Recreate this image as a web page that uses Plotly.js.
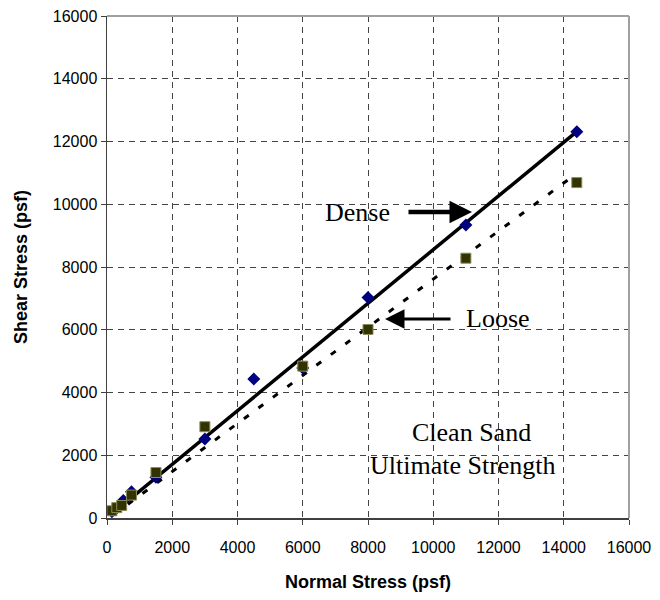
<!DOCTYPE html>
<html>
<head>
<meta charset="utf-8">
<script src="https://cdn.plot.ly/plotly-3.0.1.min.js"></script>
<style>
  html, body { margin: 0; padding: 0; background: #ffffff; }
  #chart { width: 660px; height: 600px; }
</style>
</head>
<body>
<div id="chart"></div>
<script>
// Direct shear results on clean sand, ultimate strength
const denseNormal = [150, 500, 750, 1500, 3000, 4500, 6000, 8000, 11000, 14400];
const denseShear  = [200, 560, 840, 1300, 2520, 4430, 4780, 7030, 9340, 12310];

const looseNormal = [150, 300, 450, 750, 1500, 3000, 6000, 8000, 11000, 14400];
const looseShear  = [230, 330, 400, 730, 1450, 2910, 4840, 6010, 8280, 10690];

// Strength envelopes (end points of each fitted line)
const denseFitNormal = [150, 14500];
const denseFitShear  = [130, 12400];
const looseFitNormal = [200, 14250];
const looseFitShear  = [100, 10870];

const axisTicks = [0, 2000, 4000, 6000, 8000, 10000, 12000, 14000, 16000];

const traces = [
  {
    x: denseFitNormal, y: denseFitShear, mode: 'lines', type: 'scatter',
    line: { color: '#000000', width: 3.5 }, hoverinfo: 'skip'
  },
  {
    x: looseFitNormal, y: looseFitShear, mode: 'lines', type: 'scatter',
    line: { color: '#000000', width: 3, dash: '6px,12px' }, hoverinfo: 'skip'
  },
  {
    x: denseNormal, y: denseShear, mode: 'markers', type: 'scatter', name: 'Dense',
    marker: { symbol: 'diamond', size: 10, color: '#000080', line: { width: 0 } }
  },
  {
    x: looseNormal, y: looseShear, mode: 'markers', type: 'scatter', name: 'Loose',
    marker: { symbol: 'square', size: 10, color: '#333300', line: { color: '#8c8c5a', width: 1 } }
  }
];

const axisCommon = {
  range: [0, 16000],
  tickvals: axisTicks,
  ticktext: axisTicks.map(String),
  showgrid: true,
  gridcolor: '#444444',
  gridwidth: 1,
  griddash: '6px,5px',
  zeroline: false,
  showline: true,
  linecolor: '#404040',
  linewidth: 1.5,
  ticks: 'outside',
  ticklen: 5,
  tickwidth: 1,
  tickcolor: '#404040',
  tickfont: { family: 'Liberation Sans, Arial, sans-serif', size: 16, color: '#000000' },
  fixedrange: true
};

const titleFont = { family: 'Liberation Sans, Arial, sans-serif', size: 18, color: '#000000', weight: 'bold' };
const serif = { family: 'Liberation Serif, Times New Roman, serif', size: 26, color: '#000000' };

const layout = {
  width: 660,
  height: 600,
  margin: { l: 107, r: 31, t: 16, b: 82 },
  paper_bgcolor: '#ffffff',
  plot_bgcolor: '#ffffff',
  showlegend: false,
  xaxis: Object.assign({}, axisCommon, {
    ticklabelstandoff: 9,
    title: { text: '<b>Normal Stress (psf)</b>', font: titleFont, standoff: 20 }
  }),
  yaxis: Object.assign({}, axisCommon, {
    title: { text: '<b>Shear Stress (psf)</b>', font: titleFont, standoff: 20 }
  }),
  shapes: [
    // light frame along the top and right edges of the plot area
    { type: 'line', xref: 'paper', yref: 'paper', x0: 0, x1: 1, y0: 1, y1: 1, line: { color: '#a0a0a0', width: 2 } },
    { type: 'line', xref: 'paper', yref: 'paper', x0: 1, x1: 1, y0: 0, y1: 1, line: { color: '#a0a0a0', width: 2 } }
  ],
  annotations: [
    { x: 7693, y: 9753, xref: 'x', yref: 'y', text: 'Dense', showarrow: false, font: serif },
    {
      x: 11188, y: 9753, ax: 9195, ay: 9753, xref: 'x', yref: 'y', axref: 'x', ayref: 'y',
      text: '', showarrow: true, arrowhead: 2, arrowsize: 1, arrowwidth: 4.5, arrowcolor: '#000000'
    },
    { x: 11985, y: 6343, xref: 'x', yref: 'y', text: 'Loose', showarrow: false, font: serif },
    {
      x: 8521, y: 6343, ax: 10575, ay: 6343, xref: 'x', yref: 'y', axref: 'x', ayref: 'y',
      text: '', showarrow: true, arrowhead: 2, arrowsize: 1.3, arrowwidth: 3, arrowcolor: '#000000'
    },
    { x: 11157, y: 2741, xref: 'x', yref: 'y', text: 'Clean Sand', showarrow: false, font: serif },
    { x: 10912, y: 1689, xref: 'x', yref: 'y', text: 'Ultimate Strength', showarrow: false, font: serif }
  ]
};

Plotly.newPlot('chart', traces, layout, { staticPlot: true, displayModeBar: false });
</script>
</body>
</html>
